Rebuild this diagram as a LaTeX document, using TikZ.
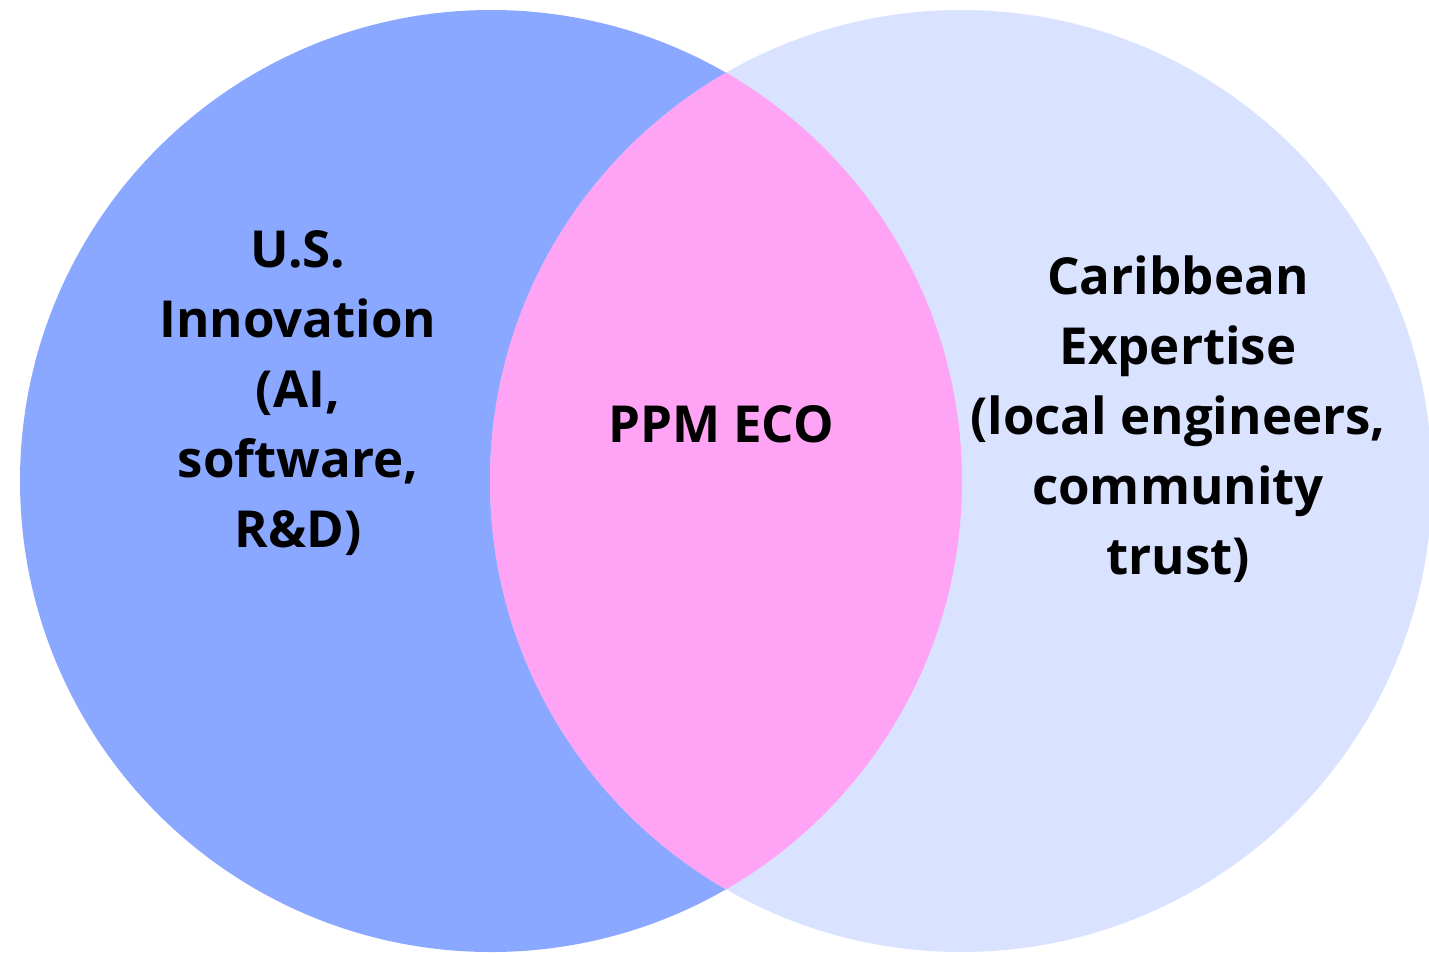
\documentclass[tikz,border=0pt]{standalone}
\usepackage{fontspec}
\setmainfont{Open Sans}
\usetikzlibrary{positioning}

\definecolor{usblue}{RGB}{138,168,255}
\definecolor{caribblue}{RGB}{217,226,255}
\definecolor{ecopink}{RGB}{255,163,245}

\begin{document}
\begin{tikzpicture}[
  x=1pt, y=-1pt,
  venntext/.style={
        font=\fontsize{51}{70}\selectfont\bfseries,
        align=center,
        text=black
  }
]

    \useasboundingbox (0,0) rectangle (1429,953);

    \coordinate (L) at (491,481);
    \coordinate (R) at (961,481);

    \fill[usblue] (L) circle[radius=471];
    \fill[caribblue] (R) circle[radius=471];
    \begin{scope}
        \clip (L) circle[radius=471];
        \fill[ecopink] (R) circle[radius=471];
    \end{scope}

    \node[venntext] (US) at (298,393) {U.S.\\Innovation\\(AI,\\software,\\R\&D)};
    \node[venntext] (PPM) at (721,424) {PPM ECO};
    \node[venntext] (CB) at (1178,419) {Caribbean\\Expertise\\(local engineers,\\community\\trust)};
\end{tikzpicture}
\end{document}
